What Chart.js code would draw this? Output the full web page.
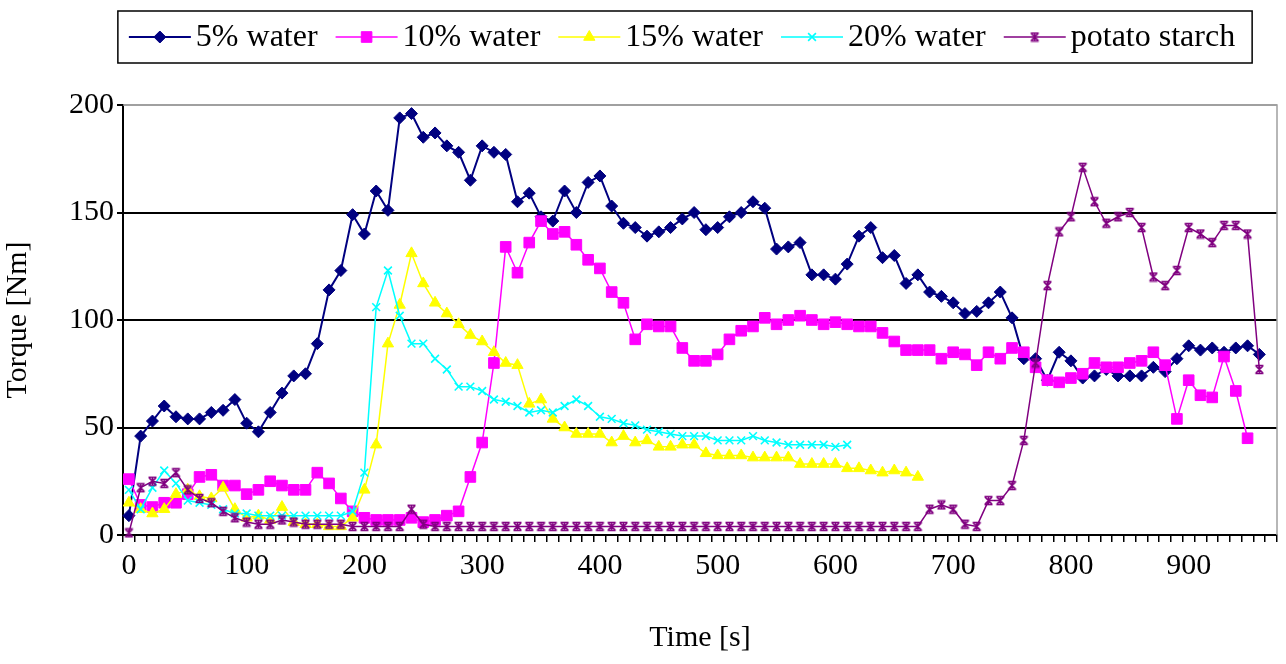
<!DOCTYPE html>
<html><head><meta charset="utf-8">
<script src="https://cdn.jsdelivr.net/npm/chart.js@4"></script>
<style>html,body{margin:0;padding:0;background:#fff;}</style>
</head><body>
<canvas id="c" width="1286" height="664" style="width:1286px;height:664px;display:block"></canvas>
<script>
const categories = [0,10,20,30,40,50,60,70,80,90,100,110,120,130,140,150,160,170,180,190,
200,210,220,230,240,250,260,270,280,290,300,310,320,330,340,350,360,370,380,390,
400,410,420,430,440,450,460,470,480,490,500,510,520,530,540,550,560,570,580,590,
600,610,620,630,640,650,660,670,680,690,700,710,720,730,740,750,760,770,780,790,
800,810,820,830,840,850,860,870,880,890,900,910,920,930,940,950,960,970];
const xTickLabels = [0,100,200,300,400,500,600,700,800,900];
const yTicks = [0,50,100,150,200];

const water5 = [9,46,53,60,55,54,54,57,58,63, 52,48,57,66,74,75,89,114,123,149,
140,160,151,194,196,185,187,181,178,165, 181,178,177,155,159,148,146,160,150,164,
167,153,145,143,139,141,143,147,150,142, 143,148,150,155,152,133,134,136,121,121,
119,126,139,143,129,130,117,121,113,111, 108,103,104,108,113,101,82,82,72,85,
81,73,74,77,74,74,74,78,76,82, 88,86,87,85,87,88,84];
const water10 = [26,14,13,15,15,19,27,28,23,23, 19,21,25,23,21,21,29,24,17,11,
8,7,7,7,8,6,7,9,11,27, 43,80,134,122,136,146,140,141,135,128,
124,113,108,91,98,97,97,87,81,81, 84,91,95,97,101,98,100,102,100,98,
99,98,97,97,94,90,86,86,86,82, 85,84,79,85,82,87,85,78,72,71,
73,75,80,78,78,80,81,85,79,54, 72,65,64,83,67,45];
const water15 = [15,12,10,12,19,21,18,17,22,12, 8,9,7,13,6,5,5,4,4,8,
21,42,89,107,131,117,108,103,98,93, 90,85,80,79,61,63,54,50,47,47,
47,43,46,43,44,41,41,42,42,38, 37,37,37,36,36,36,36,33,33,33,
33,31,31,30,29,30,29,27];
const water20 = [21,12,22,30,24,16,15,14,12,10, 10,9,9,9,9,9,9,9,9,11,
29,106,123,102,89,89,82,77,69,69, 67,63,62,60,57,58,57,60,63,60,
55,54,52,51,49,48,47,46,46,46, 44,44,44,46,44,43,42,42,42,42,
41,42];
const potato = [1,22,25,24,29,21,17,15,11,8, 6,5,5,7,6,5,5,5,5,4,
4,4,4,4,12,5,4,4,4,4, 4,4,4,4,4,4,4,4,4,4,
4,4,4,4,4,4,4,4,4,4, 4,4,4,4,4,4,4,4,4,4,
4,4,4,4,4,4,4,4,12,14, 12,5,4,16,16,23,44,80,116,141,
148,171,155,145,148,150,143,120,116,123, 143,140,136,144,144,140,77];

const FONT = '"Liberation Serif", "Times New Roman", serif';

function hourglass(color){
  const c = document.createElement('canvas'); c.width = 11; c.height = 11;
  const g = c.getContext('2d'); g.strokeStyle = color; g.lineWidth = 1.6;
  g.beginPath();
  g.moveTo(1.5,1.5); g.lineTo(9.5,1.5);
  g.moveTo(1.5,9.5); g.lineTo(9.5,9.5);
  g.moveTo(2,2); g.lineTo(9,9);
  g.moveTo(9,2); g.lineTo(2,9);
  g.moveTo(5.5,1.5); g.lineTo(5.5,9.5);
  g.stroke();
  return c;
}

function mk(label, data, color, style, radius, lw, order, pbw){
  return {label, data, borderColor: color, backgroundColor: color, borderWidth: lw,
    pointStyle: style, pointRadius: radius, pointBackgroundColor: color, pointBorderColor: color,
    pointBorderWidth: pbw, tension: 0, fill: false, order, clip: 10};
}
const datasets = [
  mk('5% water', water5, '#000080', 'rectRot', 6, 2, 5, 1),
  mk('10% water', water10, '#FF00FF', 'rect', 7.5, 1.5, 4, 1),
  mk('15% water', water15, '#FFFF00', 'triangle', 6.5, 1.5, 3, 1),
  mk('20% water', water20, '#00FFFF', 'crossRot', 5.5, 1.5, 2, 1.6),
  mk('potato starch', potato, '#800080', hourglass('#800080'), 5, 1.5, 1, 1)
];

const frame = {
  id: 'frame',
  beforeDatasetsDraw(chart){
    const a = chart.chartArea, ctx = chart.ctx;
    ctx.save(); ctx.strokeStyle = '#a0a0a0'; ctx.lineWidth = 1.5;
    ctx.beginPath(); ctx.moveTo(a.left, a.top); ctx.lineTo(a.right, a.top); ctx.lineTo(a.right, a.bottom); ctx.stroke();
    ctx.restore();
  }
};

const boxLegend = {
  id: 'boxLegend',
  afterDraw(chart){
    const ctx = chart.ctx; ctx.save();
    ctx.font = '32px ' + FONT;
    const sample = 62, gapText = 5, gapItem = 18, cx = 682, cy = 37;
    const items = chart.data.datasets.map(d => ({d, w: ctx.measureText(d.label).width}));
    const total = items.reduce((s, it) => s + sample + gapText + it.w, 0) + gapItem * (items.length - 1);
    let x = cx - total / 2;
    ctx.strokeStyle = '#000'; ctx.lineWidth = 1.5;
    ctx.strokeRect(x - 11, 11, total + 28, 52);
    items.forEach(it => {
      const d = it.d;
      ctx.strokeStyle = d.borderColor; ctx.lineWidth = d.borderWidth;
      ctx.beginPath(); ctx.moveTo(x, cy); ctx.lineTo(x + sample, cy); ctx.stroke();
      ctx.fillStyle = d.pointBackgroundColor; ctx.strokeStyle = d.pointBorderColor; ctx.lineWidth = d.pointBorderWidth;
      Chart.helpers.drawPoint(ctx, {pointStyle: d.pointStyle, radius: d.pointRadius, rotation: 0, borderWidth: d.pointBorderWidth}, x + sample / 2, cy);
      ctx.fillStyle = '#000'; ctx.textAlign = 'left'; ctx.textBaseline = 'middle';
      ctx.fillText(d.label, x + sample + gapText, cy + 1);
      x += sample + gapText + it.w + gapItem;
    });
    ctx.restore();
  }
};

new Chart(document.getElementById('c'), {
  type: 'line',
  data: { labels: categories, datasets },
  plugins: [frame, boxLegend],
  options: {
    responsive: false, animation: false, events: [], devicePixelRatio: 1,
    layout: { padding: { top: 105, right: 9, left: 0, bottom: 0 } },
    plugins: { legend: { display: false }, tooltip: { enabled: false } },
    scales: {
      x: {
        type: 'category', offset: true,
        grid: { offset: true, drawOnChartArea: false, drawTicks: true, tickLength: 7, color: '#000', lineWidth: 1.5 },
        border: { color: '#000', width: 2 },
        ticks: { autoSkip: false, maxRotation: 0, minRotation: 0, padding: 6, color: '#000', font: { family: FONT, size: 30 },
          callback: (v, i) => xTickLabels.includes(categories[i]) ? String(categories[i]) : '' },
        title: { display: true, text: 'Time [s]', color: '#000', font: { family: FONT, size: 30 }, padding: { top: 0, bottom: 8 } },
        afterFit: s => { s.height = 129; }
      },
      y: {
        min: 0, max: 200,
        afterBuildTicks: s => { s.ticks = yTicks.map(v => ({ value: v })); },
        grid: { color: c => (c.tick && c.tick.value === 200) ? '#a0a0a0' : '#000', lineWidth: 2, tickColor: '#000', tickLength: 6 },
        border: { color: '#000', width: 2 },
        ticks: { padding: 3, color: '#000', font: { family: FONT, size: 30 } },
        title: { display: true, text: 'Torque [Nm]', color: '#000', font: { family: FONT, size: 30 }, padding: { top: 0, bottom: 4 } },
        afterFit: s => { s.width = 123; }
      }
    }
  }
});
</script>
</body></html>
